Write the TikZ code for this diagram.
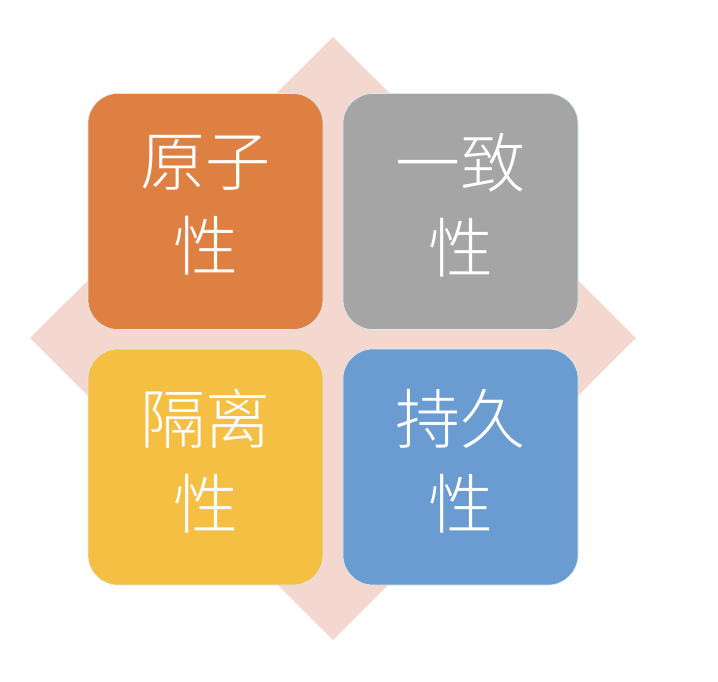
\documentclass[tikz,border=0pt]{standalone}
\usepackage{fontspec}
\newfontfamily\cjk[UprightFont={* Light}]{Noto Sans CJK SC}
\definecolor{diam}{HTML}{F4D8D0}
\definecolor{orng}{HTML}{DF8043}
\definecolor{gry}{HTML}{A5A5A5}
\definecolor{yel}{HTML}{F5BF43}
\definecolor{blu}{HTML}{6A9BD1}
\begin{document}
\begin{tikzpicture}[x=1pt,y=-1pt,
  card/.style={draw=white!85!teal, line width=0.6pt, rounded corners=30pt, minimum width=235pt, minimum height=236pt, inner sep=0pt},
  lbl/.style={text=white, font=\cjk\fontsize{65}{85}\selectfont, align=center}]
\useasboundingbox (0,0) rectangle (718,682);
\fill[diam] (333,37) -- (636,338) -- (333,640) -- (30,338) -- cycle;
\node[card, fill=orng] (a) at (205.5,211.5) {};
\node[card, fill=gry] (b) at (460.5,211.5) {};
\node[card, fill=yel] (c) at (205.5,467) {};
\node[card, fill=blu] (d) at (460.5,467) {};
\node[lbl] (ta) at ([yshift=6pt]a.center) {原子\\性};
\node[lbl] (tb) at ([yshift=6pt]b.center) {一致\\性};
\node[lbl] (tc) at ([yshift=6pt]c.center) {隔离\\性};
\node[lbl] (td) at ([yshift=6pt]d.center) {持久\\性};
\end{tikzpicture}
\end{document}
